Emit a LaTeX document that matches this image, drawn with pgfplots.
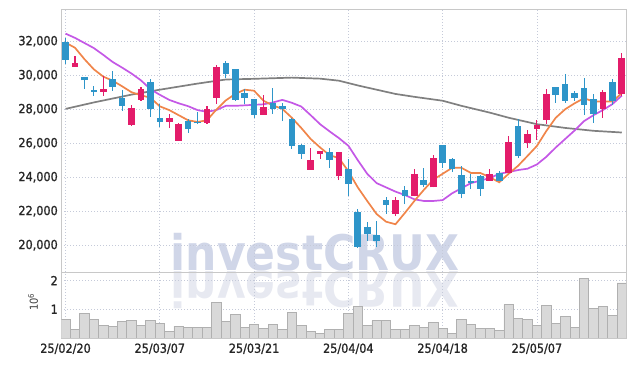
\documentclass[border=0pt]{standalone}
\usepackage{pgfplots}
\usepackage{pgfplotstable}
\pgfplotsset{compat=1.18}
\usepackage{fontspec}
\setmainfont{DejaVu Sans Condensed}
\newfontfamily\tickfont[FakeBold=1.2]{DejaVu Sans Condensed}
\newfontfamily\wmfont{DejaVu Sans Condensed Bold}

\definecolor{upc}{HTML}{E31C6A}
\definecolor{dnc}{HTML}{2E95C9}
\definecolor{maA}{HTML}{F0854A}
\definecolor{maB}{HTML}{C458E6}
\definecolor{maC}{HTML}{808080}
\definecolor{gridc}{HTML}{C5CAD9}
\definecolor{framec}{HTML}{C8C8C8}
\definecolor{volf}{HTML}{D9D9D9}
\definecolor{vole}{HTML}{B0B0B0}
\definecolor{wm}{HTML}{D0D6E8}
\definecolor{wmr}{HTML}{E7E9F1}

% up (red) candles: index open high low close
\pgfplotstableread{
i open high low close
1 30490 31140 30490 30710
4 29020 29960 28780 29220
7 27076 28235 27020 28100
8 28547 29280 28490 29176
11 27253 27706 26883 27512
12 26135 27176 26135 27118
15 27218 28196 27118 28000
16 28677 30588 28335 30488
21 27665 28841 27665 28160
26 24430 25690 24430 25000
27 25372 25560 25059 25529
29 24041 25511 23824 25511
35 21853 22806 21706 22647
37 22865 24470 22865 24176
39 23394 25312 23394 25158
45 23782 24470 23782 24176
47 24235 26441 24235 26100
49 26000 26795 25747 26530
50 26865 27370 26177 27059
51 27370 29220 27118 28883
57 28000 29135 27512 29020
59 28924 31335 28784 31000
}\upT

% down (blue) candles
\pgfplotstableread{
i open high low close
0 31980 32180 30650 30900
2 29925 29925 29220 29705
3 29118 29370 28780 29020
5 29765 30250 29080 29335
6 28647 29135 27900 28195
9 29606 29765 27570 28000
10 27512 28294 26983 27253
13 27312 27412 26630 26824
14 27230 27840 27120 27170
17 30706 30824 29841 30088
18 30353 30353 28500 28559
19 28941 29176 28294 28647
20 28588 28588 27512 27665
22 28353 29276 27706 28030
23 28196 28395 27294 28000
24 27412 27512 25680 25843
25 25882 25982 25059 25394
28 25490 25690 24570 25000
30 24470 25059 22900 23588
31 21925 22118 19850 19900
32 21040 21335 20253 20650
33 20588 21394 19865 20253
34 22647 22806 21853 22370
36 23235 23490 22412 22865
38 23841 24570 23394 23547
40 25882 25882 24570 24823
41 25059 25158 24312 24470
42 24118 24630 22750 23000
43 23765 24176 23294 23647
44 24080 24118 22900 23324
46 24276 24335 23782 23782
48 27000 27412 25118 25250
52 29312 29312 28394 28824
53 29470 30100 28394 28490
54 28941 29080 28490 28647
55 29235 29865 27647 28253
56 28588 28883 27218 27706
58 29630 29806 28253 28490
}\dnT

% moving averages
\pgfplotstableread{
i a b
0 31920 32450
1 31620 32200
2 30950 31900
3 30350 31600
4 29920 31200
5 29680 30780
6 29350 30450
7 29000 30100
8 28820 29700
9 28680 29180
10 28170 28850
11 27950 28550
12 27650 28350
13 27350 28180
14 27250 27950
15 27350 27850
16 27980 27950
17 28520 28200
18 28900 28200
19 29150 28230
20 29090 28260
21 28500 28290
22 28220 28400
23 28020 28550
24 27500 28380
25 26900 28160
26 26250 27650
27 25750 27120
28 25300 26700
29 25120 26300
30 24350 25850
31 23400 25000
32 22600 24200
33 21830 23650
34 21380 23400
35 21230 23150
36 21900 22950
37 22600 22700
38 23250 22600
39 23850 22600
40 24200 22650
41 24550 23050
42 24550 23350
43 24250 23650
44 24250 23800
45 24000 23950
46 23700 24200
47 24200 24300
48 24670 24420
49 25250 24500
50 25840 24750
51 26720 25200
52 27500 25750
53 28000 26250
54 28350 26750
55 28650 27300
56 28450 27650
57 28450 27950
58 28450 28300
59 28950 28800
}\maT

\pgfplotstableread{
i c
0 28020
3 28400
7 28860
10 29150
14 29510
17 29750
20 29790
24 29860
27 29800
29 29680
31 29400
33 29150
35 28900
37 28730
40 28500
42 28200
45 27800
47 27500
50 27120
53 26900
56 26730
59 26630
}\mcT

\pgfplotstableread{
i v
0 655000
1 310000
2 850000
3 655000
4 450000
5 410000
6 590000
7 620000
8 450000
9 620000
10 500000
11 240000
12 410000
13 380000
14 380000
15 380000
16 1230000
17 590000
18 820000
19 370000
20 470000
21 330000
22 470000
23 300000
24 890000
25 450000
26 220000
27 160000
28 300000
29 300000
30 850000
31 1100000
32 450000
33 600000
34 600000
35 300000
36 300000
37 450000
38 370000
39 540000
40 330000
41 160000
42 640000
43 470000
44 330000
45 330000
46 260000
47 1160000
48 690000
49 640000
50 440000
51 1130000
52 510000
53 750000
54 370000
55 2060000
56 1020000
57 1090000
58 780000
59 1920000
}\volT

\pgfplotsset{
  base/.style={
    scale only axis, width=564.7pt,
    xmin=-0.45, xmax=59.45,
    axis line style={framec, line width=0.8pt},
    tick style={draw=none}, major tick length=0pt,
    xtick={0,10,20,30,40,50},
    grid=major,
    major grid style={gridc, dash pattern=on 1pt off 2pt, line width=0.7pt},
    ticklabel style={font=\tickfont\fontsize{12.5}{14}\selectfont, color=black!85},
    /pgf/number format/assume math mode=true,
    clip=true,
  },
  candle/.style={only marks, mark=*, mark options={draw opacity=0, fill opacity=0},
    error bars/.cd, y dir=plus, y explicit, error mark=none},
}

\begin{document}
\begin{tikzpicture}
\path[use as bounding box] (0,0) rectangle (634pt,366pt);
% watermark
\node[font=\wmfont\fontsize{49}{50}\selectfont, text=wm, anchor=base, inner sep=0pt] at (315pt,95pt) {investCRUX};
\node[font=\wmfont\fontsize{49}{50}\selectfont, text=wmr, anchor=base, inner sep=0pt, yscale=-1] at (315pt,94pt) {investCRUX};

\begin{axis}[base,
  at={(61.3pt,94pt)}, anchor=south west, height=263pt,
  ymin=18420, ymax=33900,
  ytick={20000,22000,...,32000},
  xticklabels={},
  scaled y ticks=false,
  /pgf/number format/fixed,
  /pgf/number format/1000 sep={,},
]
% moving averages
\addplot[maC, line width=1.7pt] table[x=i, y=c] {\mcT};
\addplot[maB, line width=1.7pt] table[x=i, y=b] {\maT};
\addplot[maA, line width=1.7pt] table[x=i, y=a] {\maT};
% wicks
\addplot[candle, error bar style={line width=1.1pt, color=upc}]
  table[x=i, y=low, y error plus expr=\thisrow{high}-\thisrow{low}] {\upT};
\addplot[candle, error bar style={line width=1.1pt, color=dnc}]
  table[x=i, y=low, y error plus expr=\thisrow{high}-\thisrow{low}] {\dnT};
% bodies
\addplot[candle, error bar style={line width=6.6pt, color=upc}]
  table[x=i, y=open, y error plus expr=\thisrow{close}-\thisrow{open}] {\upT};
\addplot[candle, error bar style={line width=6.6pt, color=dnc}]
  table[x=i, y=close, y error plus expr=\thisrow{open}-\thisrow{close}] {\dnT};
\end{axis}

\begin{axis}[base,
  at={(61.3pt,28pt)}, anchor=south west, height=66pt,
  ymin=0, ymax=2300000,
  ytick={1000000,2000000}, yticklabels={1,2},
  scaled y ticks=false,
  xticklabels={25/02/20,25/03/07,25/03/21,25/04/04,25/04/18,25/05/07},
  xticklabel style={yshift=-2pt},
  ylabel={10\textsuperscript{6}},
  every axis y label/.style={at={(axis description cs:-0.05,0.545)}, rotate=90, anchor=center, font=\fontsize{11}{12}\selectfont, color=black!75},
]
\addplot[ybar, bar width=1, fill=volf, draw=vole, line width=0.8pt] table[x=i, y=v] {\volT};
\end{axis}
\end{tikzpicture}
\end{document}
